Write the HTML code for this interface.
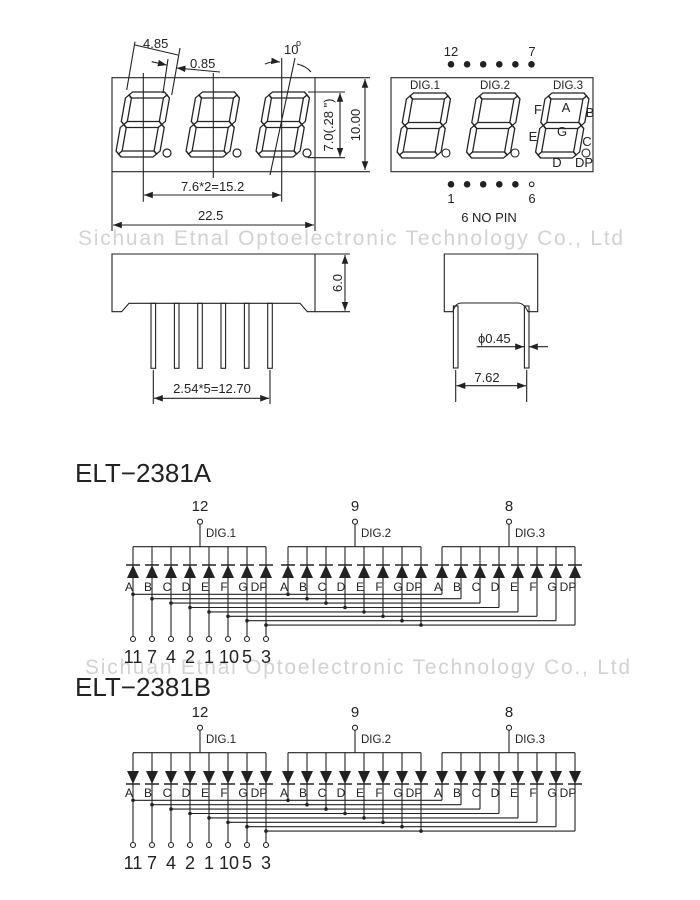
<!DOCTYPE html>
<html><head><meta charset="utf-8"><style>
html,body{margin:0;padding:0;background:#fff;}
svg{display:block;font-family:"Liberation Sans",Arial,sans-serif;}
</style></head><body>
<svg width="700" height="900" viewBox="0 0 700 900" xmlns="http://www.w3.org/2000/svg">
<defs>
<g id="dg" fill="none" stroke="#222" stroke-width="1.3">
<polygon points="3,3 6,0 38,0 41,3 38,6 6,6"/>
<polygon points="3,32.5 6,29.5 38,29.5 41,32.5 38,35.5 6,35.5"/>
<polygon points="3,62 6,59 38,59 41,62 38,65 6,65"/>
<polygon points="3,3 6,6 6,29.5 3,32.5 0,29.5 0,6"/>
<polygon points="3,32.5 6,35.5 6,59 3,62 0,59 0,35.5"/>
<polygon points="41,3 44,6 44,29.5 41,32.5 38,29.5 38,6"/>
<polygon points="41,32.5 44,35.5 44,59 41,62 38,59 38,35.5"/>
</g>
<g id="du"><polygon points="0,565 -6,578 6,578" fill="#222"/><line x1="-7" y1="565" x2="7" y2="565" stroke="#222" stroke-width="1.5"/></g>
<g id="dd"><polygon points="0,578 -6,565 6,565" fill="#222"/><line x1="-7" y1="578" x2="7" y2="578" stroke="#222" stroke-width="1.5"/></g>
<marker id="ar" markerWidth="8" markerHeight="6" refX="8" refY="3" orient="auto"><path d="M0,0 L8,3 L0,6 z" fill="#222"/></marker>
<marker id="al" markerWidth="8" markerHeight="6" refX="0" refY="3" orient="auto"><path d="M8,0 L0,3 L8,6 z" fill="#222"/></marker>

<g id="sch" stroke="#222" stroke-width="1.1" fill="none">
<line x1="200" y1="524" x2="200" y2="546.7"/><circle cx="200" cy="521.7" r="2.5" fill="#fff"/>
<line x1="355" y1="524" x2="355" y2="546.7"/><circle cx="355" cy="521.7" r="2.5" fill="#fff"/>
<line x1="509" y1="524" x2="509" y2="546.7"/><circle cx="509" cy="521.7" r="2.5" fill="#fff"/>
<line x1="133" y1="546.7" x2="266" y2="546.7"/>
<line x1="288" y1="546.7" x2="421" y2="546.7"/>
<line x1="442" y1="546.7" x2="575" y2="546.7"/>
<path d="M133 594.3H442 M152 598.7H461 M171 603.1H480 M190 607.5H499 M209 611.9H518 M228 616.3H537 M247 620.7H556 M266 625.1H575"/>
<path d="M133 546.7V636.5 M152 546.7V636.5 M171 546.7V636.5 M190 546.7V636.5 M209 546.7V636.5 M228 546.7V636.5 M247 546.7V636.5 M266 546.7V636.5"/>
<path d="M288 546.7V594.3 M307 546.7V598.7 M326 546.7V603.1 M345 546.7V607.5 M364 546.7V611.9 M383 546.7V616.3 M402 546.7V620.7 M421 546.7V625.1"/>
<path d="M442 546.7V594.3 M461 546.7V598.7 M480 546.7V603.1 M499 546.7V607.5 M518 546.7V611.9 M537 546.7V616.3 M556 546.7V620.7 M575 546.7V625.1"/>
<g fill="#222" stroke="none">
<circle cx="133" cy="594.3" r="1.8"/><circle cx="152" cy="598.7" r="1.8"/><circle cx="171" cy="603.1" r="1.8"/><circle cx="190" cy="607.5" r="1.8"/><circle cx="209" cy="611.9" r="1.8"/><circle cx="228" cy="616.3" r="1.8"/><circle cx="247" cy="620.7" r="1.8"/><circle cx="266" cy="625.1" r="1.8"/>
<circle cx="288" cy="594.3" r="1.8"/><circle cx="307" cy="598.7" r="1.8"/><circle cx="326" cy="603.1" r="1.8"/><circle cx="345" cy="607.5" r="1.8"/><circle cx="364" cy="611.9" r="1.8"/><circle cx="383" cy="616.3" r="1.8"/><circle cx="402" cy="620.7" r="1.8"/><circle cx="421" cy="625.1" r="1.8"/>
</g>
<g fill="#fff">
<circle cx="133" cy="639" r="2.5"/><circle cx="152" cy="639" r="2.5"/><circle cx="171" cy="639" r="2.5"/><circle cx="190" cy="639" r="2.5"/><circle cx="209" cy="639" r="2.5"/><circle cx="228" cy="639" r="2.5"/><circle cx="247" cy="639" r="2.5"/><circle cx="266" cy="639" r="2.5"/>
</g>
<g fill="#222" stroke="none" font-size="15" text-anchor="middle">
<text x="200" y="511">12</text><text x="355" y="511">9</text><text x="509" y="511">8</text>
</g>
<g fill="#222" stroke="none" font-size="11.5">
<text x="206" y="537">DIG.1</text><text x="361" y="537">DIG.2</text><text x="515" y="537">DIG.3</text>
</g>
<g fill="#222" stroke="none" font-size="12" text-anchor="middle">
<text x="129" y="591">A</text><text x="148" y="591">B</text><text x="167" y="591">C</text><text x="186" y="591">D</text><text x="205" y="591">E</text><text x="224" y="591">F</text><text x="243" y="591">G</text><text x="259" y="591">DP</text>
<text x="284" y="591">A</text><text x="303" y="591">B</text><text x="322" y="591">C</text><text x="341" y="591">D</text><text x="360" y="591">E</text><text x="379" y="591">F</text><text x="398" y="591">G</text><text x="414" y="591">DP</text>
<text x="438" y="591">A</text><text x="457" y="591">B</text><text x="476" y="591">C</text><text x="495" y="591">D</text><text x="514" y="591">E</text><text x="533" y="591">F</text><text x="552" y="591">G</text><text x="568" y="591">DP</text>
</g>
<g fill="#222" stroke="none" font-size="18" text-anchor="middle">
<text x="133" y="663">11</text><text x="152" y="663">7</text><text x="171" y="663">4</text><text x="190" y="663">2</text><text x="209" y="663">1</text><text x="229" y="663">10</text><text x="247" y="663">5</text><text x="266" y="663">3</text>
</g>
</g>
</defs>

<g fill="#d2d2d2" font-size="21">
<text x="78" y="245" textLength="545">Sichuan Etnal Optoelectronic Technology Co., Ltd</text>
<text x="85" y="674" textLength="545">Sichuan Etnal Optoelectronic Technology Co., Ltd</text>
</g>

<g stroke="#222" stroke-width="1.1" fill="none">
<rect x="112" y="77.7" width="203" height="94"/>
<path d="M315 77.7H370 M315 171.7H370"/>
<line x1="365" y1="79" x2="365" y2="170" marker-start="url(#al)" marker-end="url(#ar)"/>
<path d="M308 92H345 M308 157.7H345"/>
<line x1="340" y1="93" x2="340" y2="156.7" marker-start="url(#al)" marker-end="url(#ar)"/>
<path d="M143.3 73V201.7 M213.3 73V178 M281.7 58V201.7 M295 58L270 175"/>
<line x1="144" y1="195" x2="281" y2="195" marker-start="url(#al)" marker-end="url(#ar)"/>
<path d="M112 172V231 M315 172V231"/>
<line x1="113" y1="225" x2="314" y2="225" marker-start="url(#al)" marker-end="url(#ar)"/>
<path d="M126.7 90L135 41.7 M171.7 95L180 48 M168 59L163 93"/>
<line x1="135" y1="45" x2="178" y2="55"/>
<line x1="151.7" y1="61.7" x2="166.7" y2="65" marker-end="url(#ar)"/>
<path d="M220 72L176.7 68" marker-end="url(#ar)"/>
<path d="M265 64Q272 61 280 62" marker-end="url(#ar)"/>
<path d="M297 64Q306 66 311 72"/>
</g>
<use href="#dg" transform="translate(126.5,92) skewX(-10)"/>
<use href="#dg" transform="translate(196.5,92) skewX(-10)"/>
<use href="#dg" transform="translate(266.5,92) skewX(-10)"/>
<g fill="none" stroke="#222" stroke-width="1.2"><circle cx="167" cy="153" r="4"/><circle cx="237" cy="153" r="4"/><circle cx="307" cy="153" r="4"/></g>
<g fill="#222" font-size="13">
<text x="143" y="48">4.85</text>
<text x="190" y="68">0.85</text>
<text x="284" y="54">10</text><text x="296" y="46" font-size="9">o</text>
<text x="181" y="191">7.6*2=15.2</text>
<text x="198" y="220">22.5</text>
<text transform="translate(360,125) rotate(-90)" text-anchor="middle">10.00</text>
<text transform="translate(333,125) rotate(-90)" text-anchor="middle">7.0(.28 ")</text>
</g>

<g stroke="#222" stroke-width="1.1" fill="none"><rect x="391" y="77.7" width="202" height="94"/>
<circle cx="446" cy="153" r="4"/><circle cx="515" cy="153" r="4"/><circle cx="586" cy="153" r="4"/>
<circle cx="531.7" cy="184.3" r="2.3"/></g>
<use href="#dg" transform="translate(407.5,93) skewX(-10)"/>
<use href="#dg" transform="translate(477,93) skewX(-10)"/>
<use href="#dg" transform="translate(546,93) skewX(-10)"/>
<g fill="#222">
<circle cx="451" cy="64.3" r="3.3"/><circle cx="467.1" cy="64.3" r="3.3"/><circle cx="483.2" cy="64.3" r="3.3"/><circle cx="499.3" cy="64.3" r="3.3"/><circle cx="515.4" cy="64.3" r="3.3"/><circle cx="531.5" cy="64.3" r="3.3"/>
<circle cx="451" cy="184.3" r="3.3"/><circle cx="467.1" cy="184.3" r="3.3"/><circle cx="483.2" cy="184.3" r="3.3"/><circle cx="499.3" cy="184.3" r="3.3"/><circle cx="515.4" cy="184.3" r="3.3"/>
</g>
<g fill="#222" font-size="13" text-anchor="middle">
<text x="451" y="56">12</text><text x="532" y="56">7</text>
<text x="451" y="203">1</text><text x="532" y="203">6</text>
<text x="489" y="222">6 NO PIN</text>
<text x="425" y="89" font-size="11.5">DIG.1</text><text x="495" y="89" font-size="11.5">DIG.2</text><text x="568" y="89" font-size="11.5">DIG.3</text>
<text x="538" y="114">F</text><text x="566" y="112">A</text><text x="590" y="117">B</text>
<text x="562" y="136">G</text><text x="533" y="141">E</text><text x="587" y="146">C</text>
<text x="557" y="167">D</text><text x="584" y="167">DP</text>
</g>

<g stroke="#222" stroke-width="1.1" fill="none">
<path d="M112 254H315V311.7H307.3L300 303.3H129L121.7 311.7H112Z"/>
<path d="M315 254H350 M315 311.7H350"/>
<line x1="345" y1="255" x2="345" y2="310.7" marker-start="url(#al)" marker-end="url(#ar)"/>
<rect x="151" y="303.3" width="4.6" height="65"/><rect x="174.4" y="303.3" width="4.6" height="65"/><rect x="197.7" y="303.3" width="4.6" height="65"/><rect x="221" y="303.3" width="4.6" height="65"/><rect x="244.4" y="303.3" width="4.6" height="65"/><rect x="267.7" y="303.3" width="4.6" height="65"/>
<path d="M153.3 370V404 M270 370V404"/>
<line x1="154" y1="398.3" x2="269" y2="398.3" marker-start="url(#al)" marker-end="url(#ar)"/>
<path d="M444.3 311.7V254H537.7V311.7H528Q524 303 518 303H461.7Q455 303 453 311.7Z"/>
<rect x="453.4" y="306" width="4.6" height="62"/><rect x="524.4" y="306" width="4.6" height="62"/>
<path d="M455.7 370V402 M526.7 370V402"/>
<line x1="456.5" y1="385.7" x2="526" y2="385.7" marker-start="url(#al)" marker-end="url(#ar)"/>
<line x1="476.7" y1="346.7" x2="524" y2="346.7" marker-end="url(#ar)"/>
<line x1="548" y1="346.7" x2="529" y2="346.7" marker-end="url(#ar)"/>
</g>
<g fill="#222" font-size="13">
<text transform="translate(342,283) rotate(-90)" text-anchor="middle">6.0</text>
<text x="212" y="393" text-anchor="middle">2.54*5=12.70</text>
<text x="487" y="382" text-anchor="middle">7.62</text>
<text x="478" y="343">ϕ0.45</text>
</g>

<g fill="#222" font-size="26"><text x="75" y="482">ELT−2381A</text><text x="75" y="696">ELT−2381B</text></g>
<use href="#sch"/>
<use href="#sch" transform="translate(0,206)"/>
<g>
<use href="#du" x="133"/><use href="#du" x="152"/><use href="#du" x="171"/><use href="#du" x="190"/><use href="#du" x="209"/><use href="#du" x="228"/><use href="#du" x="247"/><use href="#du" x="266"/>
<use href="#du" x="288"/><use href="#du" x="307"/><use href="#du" x="326"/><use href="#du" x="345"/><use href="#du" x="364"/><use href="#du" x="383"/><use href="#du" x="402"/><use href="#du" x="421"/>
<use href="#du" x="442"/><use href="#du" x="461"/><use href="#du" x="480"/><use href="#du" x="499"/><use href="#du" x="518"/><use href="#du" x="537"/><use href="#du" x="556"/><use href="#du" x="575"/>
</g>
<g transform="translate(0,206)">
<use href="#dd" x="133"/><use href="#dd" x="152"/><use href="#dd" x="171"/><use href="#dd" x="190"/><use href="#dd" x="209"/><use href="#dd" x="228"/><use href="#dd" x="247"/><use href="#dd" x="266"/>
<use href="#dd" x="288"/><use href="#dd" x="307"/><use href="#dd" x="326"/><use href="#dd" x="345"/><use href="#dd" x="364"/><use href="#dd" x="383"/><use href="#dd" x="402"/><use href="#dd" x="421"/>
<use href="#dd" x="442"/><use href="#dd" x="461"/><use href="#dd" x="480"/><use href="#dd" x="499"/><use href="#dd" x="518"/><use href="#dd" x="537"/><use href="#dd" x="556"/><use href="#dd" x="575"/>
</g>
</svg>
</body></html>
